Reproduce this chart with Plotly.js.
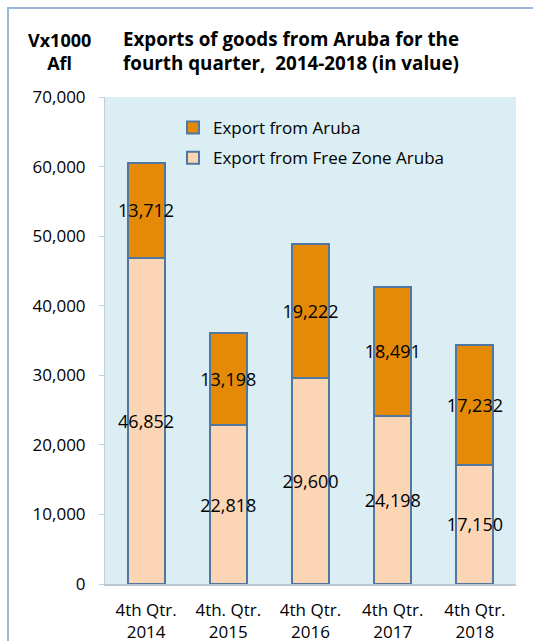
<!DOCTYPE html>
<html>
<head>
<meta charset="utf-8">
<script src="https://cdn.plot.ly/plotly-3.0.1.min.js"></script>
<style>
html,body{margin:0;padding:0;background:#fff;}
#chart{width:533px;height:641px;}
</style>
</head>
<body>
<div id="chart"></div>
<script>
const categories = ["4th Qtr.<br>2014", "4th. Qtr.<br>2015", "4th Qtr.<br>2016", "4th Qtr.<br>2017", "4th Qtr.<br>2018"];
const freeZone = [46852, 22818, 29600, 24198, 17150];
const aruba = [13712, 13198, 19222, 18491, 17232];
const seriesNames = ["Export from Free Zone Aruba", "Export from Aruba"];
const yTicks = [0, 10000, 20000, 30000, 40000, 50000, 60000, 70000];

const fmt = v => v.toLocaleString('en-US');
const barLine = {color: '#4F77A1', width: 2};
const textFont = {family: 'Open Sans', size: 18, color: '#000'};

const traces = [
  {
    type: 'bar', name: seriesNames[0], x: categories, y: freeZone,
    marker: {color: '#FCD5B4', line: barLine},
    text: freeZone.map(fmt), textposition: 'inside', insidetextanchor: 'middle',
    textangle: 0, constraintext: 'none', textfont: textFont,
    hoverinfo: 'skip', legendgroup: 'fz', legendrank: 2
  },
  {
    type: 'bar', name: seriesNames[1], x: categories, y: aruba,
    marker: {color: '#E48A07', line: barLine},
    text: aruba.map(fmt), textposition: 'inside', insidetextanchor: 'middle',
    textangle: 0, constraintext: 'none', textfont: textFont,
    hoverinfo: 'skip', legendgroup: 'ar', legendrank: 1
  }
];

const L = 105, R = 516, T = 97, B = 584;
const px = x => (x - L) / (R - L);
const py = y => (B - y) / (B - T);

const layout = {
  width: 533, height: 641,
  margin: {l: L, r: 533 - R, t: T, b: 641 - B, pad: 0},
  barmode: 'stack', bargap: 0.55,
  paper_bgcolor: '#fff', plot_bgcolor: '#DAEEF3',
  font: {family: 'Open Sans', size: 17, color: '#000'},
  title: {
    text: '<b>Exports of goods from Aruba for the<br>fourth quarter,  2014-2018 (in value)</b>',
    font: {family: 'Open Sans', size: 18.8, color: '#000'},
    xref: 'container', x: 291 / 533, xanchor: 'center',
    yref: 'container', y: 1 - 46 / 641, yanchor: 'middle'
  },
  xaxis: {
    tickvals: categories, ticktext: categories,
    showline: true, linecolor: '#BCC7D2', linewidth: 1.5,
    ticks: '', showgrid: false, zeroline: false,
    ticklabelstandoff: 10,
    tickfont: {family: 'Open Sans', size: 17, color: '#000'}
  },
  yaxis: {
    range: [0, 70000], tickvals: yTicks, ticktext: yTicks.map(fmt),
    showline: true, linecolor: '#C4CED8', linewidth: 1,
    ticks: 'outside', ticklen: 5, tickcolor: '#C4CED8',
    ticklabelstandoff: 10,
    showgrid: false, zeroline: false,
    tickfont: {family: 'Open Sans', size: 17, color: '#000'}
  },
  legend: {
    x: px(173), xanchor: 'left', y: py(110), yanchor: 'top',
    traceorder: 'grouped',
    bgcolor: 'rgba(0,0,0,0)', font: {family: 'Open Sans', size: 17, color: '#000'},
    tracegroupgap: 5
  },
  annotations: [{
    text: '<b>Vx1000<br>Afl</b>', xref: 'paper', yref: 'paper',
    x: px(59), y: py(51.5), xanchor: 'center', yanchor: 'middle',
    showarrow: false, font: {family: 'Open Sans', size: 18, color: '#000'}
  }],
  shapes: [{
    type: 'rect', xref: 'paper', yref: 'paper',
    x0: px(8), x1: px(560), y0: py(680), y1: py(8),
    line: {color: '#9CB8D8', width: 2}, fillcolor: 'rgba(0,0,0,0)', layer: 'above'
  }]
};

Plotly.newPlot('chart', traces, layout, {displayModeBar: false, staticPlot: true});
</script>
</body>
</html>
